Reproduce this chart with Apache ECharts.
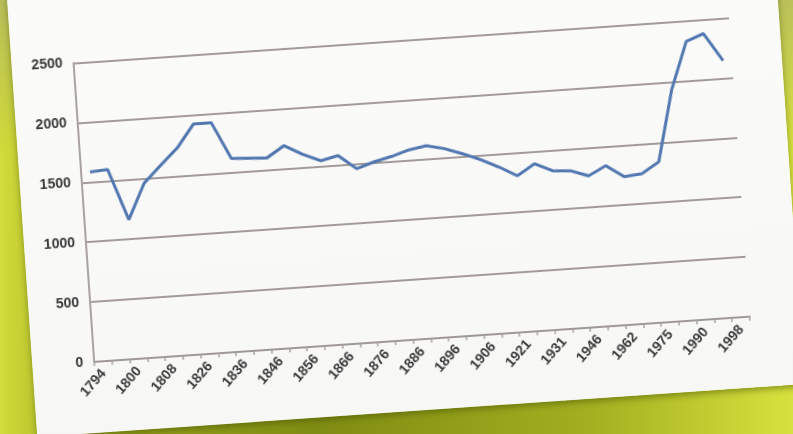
<!DOCTYPE html>
<html>
<head>
<meta charset="utf-8">
<script src="https://cdn.jsdelivr.net/npm/echarts@6/dist/echarts.min.js"></script>
<style>
  html, body { margin: 0; padding: 0; width: 793px; height: 434px; overflow: hidden; }
  body {
    background:
      linear-gradient(180deg, rgba(160,160,120,0.5) 0%, rgba(160,160,120,0) 35%),
      linear-gradient(90deg, #d2dc3a 0%, #98a41e 12%, #7f8c12 40%, #a4b020 75%, #d8e23e 100%);
    position: relative;
  }
  #paper {
    position: absolute;
    left: 22px; top: -35px;
    width: 769px; height: 446px;
    background: linear-gradient(180deg, #fbfbf9 0%, #f7f7f5 100%);
    transform: rotate(-3.95deg);
    transform-origin: 384.5px 238px;
    box-shadow: 0 3px 6px rgba(60,70,0,0.45);
  }
  #chart { position: absolute; left: 0; top: 30px; width: 769px; height: 416px; filter: blur(0.45px); }
</style>
</head>
<body>
<div id="paper"><div id="chart"></div></div>
<script>
// Category slots: every other slot carries a visible year label; the slots in between are unlabeled in the reference.
const tickLabels = ['1794','1800','1808','1826','1836','1846','1856','1866','1876','1886','1896','1906','1921','1931','1946','1962','1975','1990','1998'];
const values = [1585,1595,1165,1460,1600,1735,1925,1925,1615,1608,1600,1692,1610,1545,1578,1458,1505,1540,1585,1610,1575,1522,1462,1390,1307,1397,1328,1318,1265,1340,1238,1252,1343,1935,2328,2384,2148];
const yTicks = [0, 500, 1000, 1500, 2000, 2500];

const categories = [];
tickLabels.forEach((t, i) => {
  categories.push(t);
  if (i < tickLabels.length - 1) categories.push('');
});

const chart = echarts.init(document.getElementById('chart'), null, { renderer: 'canvas' });
chart.setOption({
  animation: false,
  grid: { left: 62, top: 45.6, width: 657, height: 299.4, containLabel: false },
  xAxis: {
    type: 'category',
    data: categories,
    boundaryGap: true,
    axisLine: { show: true, lineStyle: { color: '#9e9898', width: 2 } },
    axisTick: { show: true, interval: 0, length: 4, lineStyle: { color: '#a8a2a2', width: 1.5 } },
    axisLabel: {
      interval: 0,
      rotate: 45,
      margin: 10,
      color: '#383838',
      fontFamily: 'Liberation Sans',
      fontWeight: 'bold',
      fontSize: 14
    },
    splitLine: { show: false }
  },
  yAxis: {
    type: 'value',
    min: yTicks[0],
    max: yTicks[yTicks.length - 1],
    interval: 500,
    axisLine: { show: true, lineStyle: { color: '#a8a2a2', width: 2 } },
    axisTick: { show: false },
    axisLabel: {
      margin: 11,
      color: '#383838',
      fontFamily: 'Liberation Sans',
      fontWeight: 'bold',
      fontSize: 14,
      formatter: (v) => String(v)
    },
    splitLine: { show: true, lineStyle: { color: '#a39b9b', width: 2 } }
  },
  series: [{
    type: 'line',
    data: values,
    showSymbol: false,
    symbol: 'none',
    smooth: false,
    lineStyle: { color: '#5177b0', width: 3 }
  }]
});
</script>
</body>
</html>
